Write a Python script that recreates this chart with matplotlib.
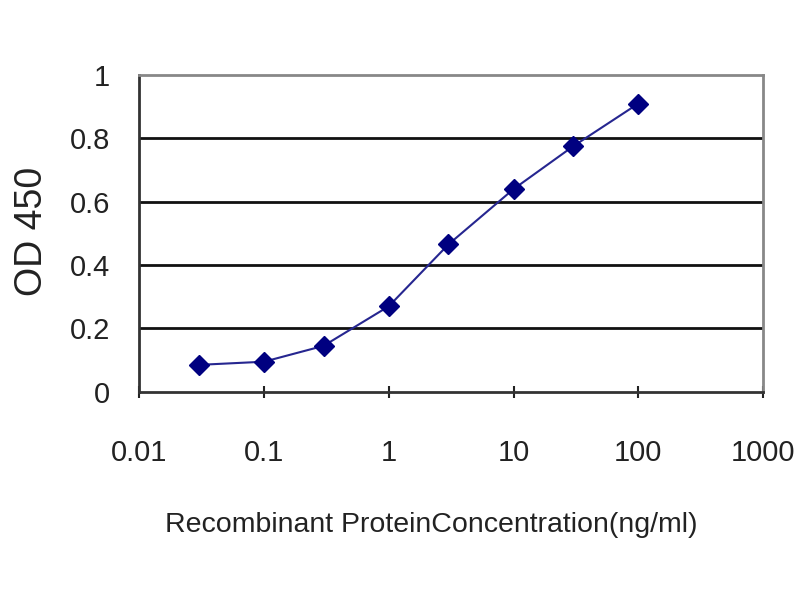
import matplotlib.pyplot as plt
import numpy as np

# ELISA standard curve
conc = [0.03, 0.1, 0.3, 1, 3, 10, 30, 100]
od450 = [0.085, 0.095, 0.145, 0.27, 0.465, 0.64, 0.775, 0.91]

x_ticks = [0.01, 0.1, 1, 10, 100, 1000]
x_tick_labels = ['0.01', '0.1', '1', '10', '100', '1000']
y_ticks = [0, 0.2, 0.4, 0.6, 0.8, 1]
y_tick_labels = ['0', '0.2', '0.4', '0.6', '0.8', '1']

plt.rcParams['font.family'] = ['Liberation Sans', 'DejaVu Sans']

fig = plt.figure(figsize=(8, 6), dpi=100)
ax = fig.add_axes([0.174, 0.347, 0.78, 0.528])

for yv in y_ticks[1:-1]:
    ax.axhline(yv, color='#111111', lw=2, zorder=1)

ax.plot(conc, od450, color='#262690', lw=1.5, marker='D', ms=10,
        markerfacecolor='#000080', markeredgecolor='#000080', zorder=3)

ax.set_xscale('log')
ax.set_xlim(0.01, 1000)
ax.set_ylim(0, 1)
ax.set_xticks(x_ticks)
ax.set_xticklabels(x_tick_labels)
ax.minorticks_off()
ax.set_yticks(y_ticks)
ax.set_yticklabels(y_tick_labels)

ax.tick_params(axis='x', direction='inout', length=8, width=1.5, pad=30,
               labelsize=21, colors='#222222')
ax.tick_params(axis='y', length=0, pad=21, labelsize=21, colors='#222222')

for side in ['top', 'right']:
    ax.spines[side].set_color('#888888')
    ax.spines[side].set_linewidth(2)
for side in ['left', 'bottom']:
    ax.spines[side].set_color('#333333')
    ax.spines[side].set_linewidth(2)

ax.set_xlabel('Recombinant ProteinConcentration(ng/ml)', fontsize=20.5,
              color='#222222', va='center')
ax.xaxis.set_label_coords(0.468, -0.422)
ax.set_ylabel('OD 450', fontsize=27, color='#222222', va='center')
ax.yaxis.set_label_coords(-0.172, 0.505)

fig.savefig('out.png', dpi=100, facecolor='white')
